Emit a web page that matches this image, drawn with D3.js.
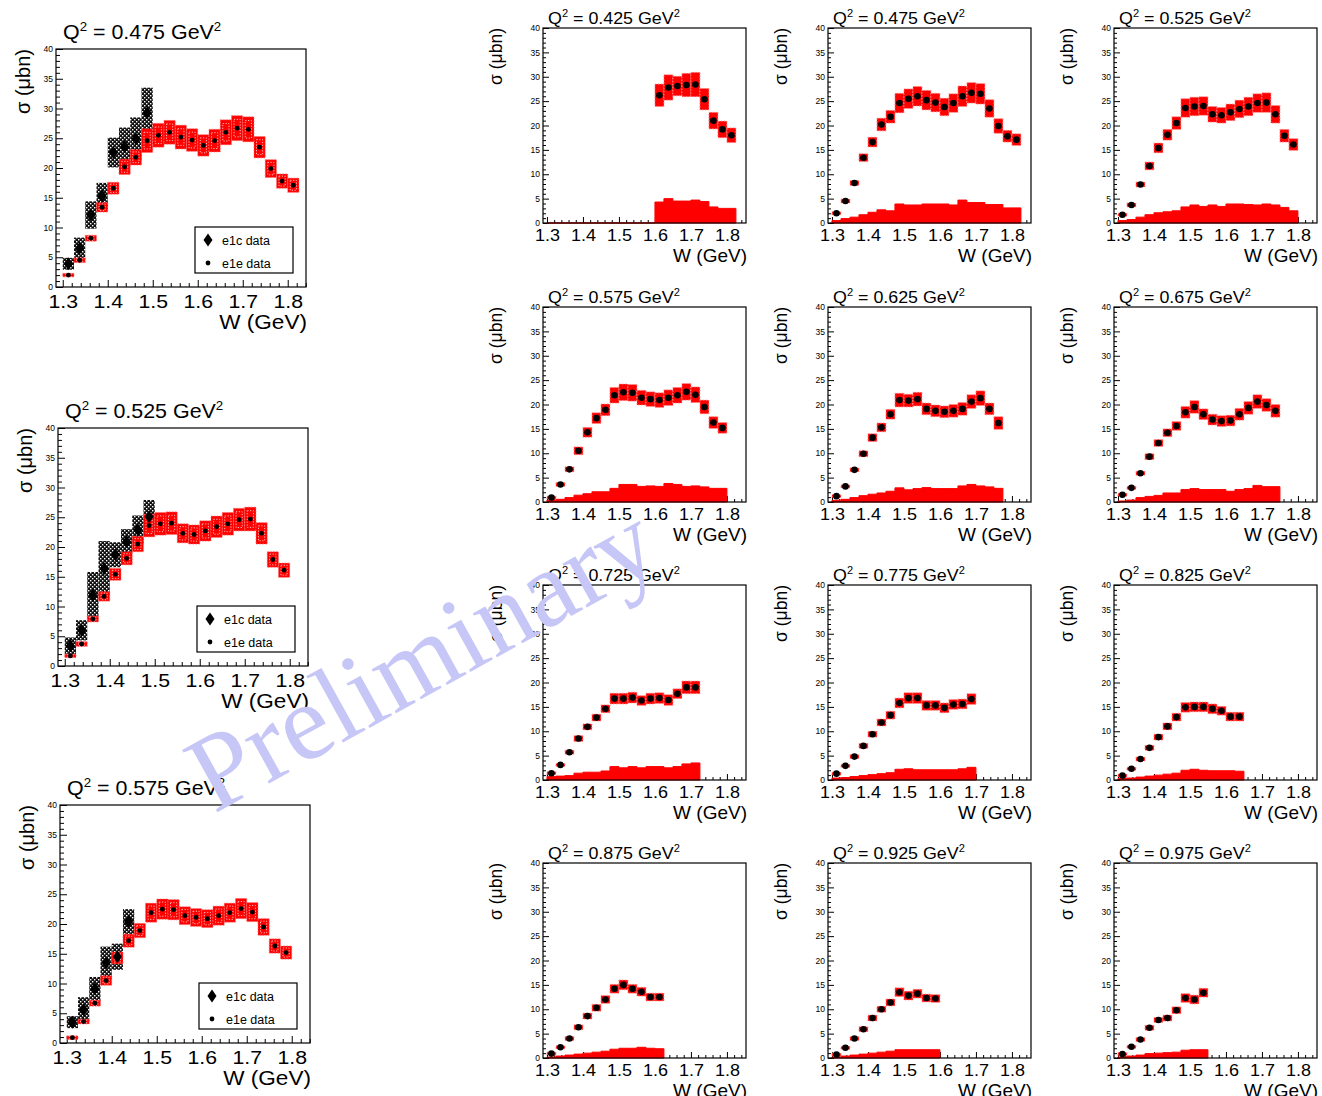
<!DOCTYPE html>
<html>
<head>
<meta charset="utf-8">
<script src="https://cdn.jsdelivr.net/npm/d3@7"></script>
<style>
  html, body { margin: 0; padding: 0; background: #fff; }
  svg { display: block; font-family: "Liberation Sans", Arial, Helvetica, sans-serif; }
</style>
</head>
<body>
<svg id="chart" width="1322" height="1096"></svg>
<script>
// ---------------------------------------------------------------
// W bin centres (GeV), 25 MeV wide bins
const wCenters = [1.3125, 1.3375, 1.3625, 1.3875, 1.4125, 1.4375, 1.4625, 1.4875,
                  1.5125, 1.5375, 1.5625, 1.5875, 1.6125, 1.6375, 1.6625, 1.6875,
                  1.7125, 1.7375, 1.7625, 1.7875, 1.8125];
const binWidth = 0.025;

// Q^2 bins of the e1e measurement (GeV^2)
const q2Bins = ["0.425", "0.475", "0.525", "0.575", "0.625", "0.675",
                "0.725", "0.775", "0.825", "0.875", "0.925", "0.975"];

// e1e total cross sections (µb), point errors and systematic band, per Q^2
const sigma0425 = [null, null, null, null, null, null, null, null, null, null, null, null,
                   26.2, 27.8, 28.1, 28.3, 28.4, 25.4, 21.0, 19.2, 18.0];
const err0425   = [null, null, null, null, null, null, null, null, null, null, null, null,
                   2.3, 2.6, 2.0, 2.4, 2.5, 2.2, 1.7, 1.7, 1.5];
const sys0425   = [0, 0, 0, 0, 0, 0, 0, 0, 0, 0, 0, 0,
                   4.3, 5.0, 4.5, 4.5, 4.7, 4.4, 3.3, 3.0, 3.0];

const sigma0475 = [2.0, 4.5, 8.2, 13.4, 16.6, 20.2, 21.8, 24.6, 25.5, 26.0, 25.2, 24.7, 23.8, 24.6, 26.0, 26.7, 26.5, 23.5, 19.9, 17.8, 17.1];
const err0475   = [0.3, 0.4, 0.5, 0.8, 1.0, 1.3, 1.3, 2.0, 2.0, 2.0, 2.0, 1.9, 1.8, 1.9, 2.1, 2.1, 2.1, 1.8, 1.5, 1.2, 1.2];
const sys0475   = [0.5, 0.9, 1.2, 1.7, 2.2, 2.7, 2.5, 3.9, 3.7, 3.7, 3.9, 3.9, 3.9, 3.7, 4.7, 4.2, 4.2, 3.8, 3.8, 3.1, 3.1];

const sigma0525 = [1.7, 3.7, 7.9, 11.7, 15.4, 18.1, 20.5, 23.6, 23.9, 24.0, 22.3, 22.1, 22.7, 23.4, 23.9, 24.6, 24.7, 22.3, 17.9, 16.1];
const err0525   = [0.3, 0.4, 0.5, 0.8, 1.0, 1.1, 1.3, 1.9, 1.9, 1.9, 1.6, 1.6, 1.7, 1.8, 1.9, 1.9, 2.0, 1.8, 1.3, 1.2];
const sys0525   = [0.5, 0.7, 1.2, 1.7, 2.1, 2.3, 2.5, 3.3, 3.7, 3.4, 3.7, 3.4, 3.9, 3.9, 3.8, 3.7, 3.9, 3.7, 3.2, 2.5];

const sigma0575 = [0.9, 3.6, 6.7, 10.5, 14.3, 17.2, 18.9, 21.9, 22.5, 22.4, 21.4, 21.1, 20.9, 21.4, 21.9, 22.6, 22.0, 19.5, 16.3, 15.2];
const err0575   = [0.3, 0.4, 0.5, 0.8, 1.0, 1.1, 1.2, 1.6, 1.7, 1.7, 1.5, 1.5, 1.5, 1.6, 1.6, 1.7, 1.6, 1.4, 1.2, 1.1];
const sys0575   = [0.4, 0.55, 0.9, 1.4, 1.7, 2.1, 2.1, 2.8, 3.6, 3.6, 3.2, 3.3, 3.2, 3.8, 3.6, 3.2, 3.3, 3.1, 2.8, 2.8];

const sigma0625 = [1.2, 3.2, 6.6, 9.9, 13.2, 15.3, 18.0, 20.9, 20.8, 21.1, 19.1, 18.7, 18.5, 18.7, 19.1, 20.6, 21.3, 19.1, 16.2];
const err0625   = [0.3, 0.3, 0.4, 0.6, 0.8, 0.9, 1.0, 1.4, 1.3, 1.4, 1.2, 1.2, 1.2, 1.3, 1.3, 1.4, 1.5, 1.2, 1.3];
const sys0625   = [0.35, 0.55, 0.9, 1.3, 1.6, 1.85, 2.2, 2.9, 2.5, 2.75, 2.95, 2.75, 2.75, 2.75, 3.3, 3.6, 3.3, 3.1, 2.8];

const sigma0675 = [1.5, 2.9, 5.9, 9.3, 12.1, 14.2, 15.6, 18.4, 19.5, 18.0, 16.9, 16.6, 16.7, 18.0, 19.3, 20.6, 19.9, 18.7];
const err0675   = [0.3, 0.3, 0.4, 0.6, 0.7, 0.8, 0.9, 1.2, 1.3, 1.1, 1.1, 1.1, 1.1, 1.2, 1.3, 1.4, 1.3, 1.3];
const sys0675   = [0.2, 0.4, 0.9, 1.15, 1.35, 1.85, 1.85, 2.55, 2.75, 2.55, 2.55, 2.55, 2.2, 2.55, 2.75, 3.4, 3.15, 3.15];

const sigma0725 = [1.4, 3.1, 5.7, 8.5, 10.9, 12.8, 14.6, 16.7, 16.7, 16.9, 16.3, 16.7, 16.8, 16.4, 17.7, 19.0, 19.0];
const err0725   = [0.3, 0.3, 0.4, 0.6, 0.6, 0.7, 0.8, 1.1, 1.1, 1.1, 1.0, 1.1, 1.1, 1.1, 1.0, 1.3, 1.3];
const sys0725   = [0.7, 0.8, 0.9, 1.4, 1.6, 1.6, 1.85, 2.75, 2.5, 2.75, 2.5, 2.75, 2.75, 2.5, 2.75, 3.3, 3.5];

const sigma0775 = [1.3, 2.9, 4.8, 7.0, 9.4, 11.8, 13.3, 15.8, 16.8, 16.8, 15.3, 15.3, 14.8, 15.5, 15.6, 16.6];
const err0775   = [0.3, 0.3, 0.4, 0.5, 0.6, 0.7, 0.8, 1.0, 1.1, 1.1, 1.0, 1.0, 1.0, 1.0, 1.0, 1.1];
const sys0775   = [0.4, 0.5, 0.7, 0.9, 1.1, 1.3, 1.5, 2.2, 2.3, 2.1, 2.1, 2.1, 2.1, 2.1, 2.3, 2.6];

const sigma0825 = [0.9, 2.3, 4.3, 6.6, 8.8, 11.0, 12.9, 14.9, 15.0, 15.0, 14.6, 14.2, 13.0, 13.0];
const err0825   = [0.3, 0.3, 0.4, 0.5, 0.6, 0.7, 0.8, 1.0, 1.0, 1.0, 1.0, 0.9, 0.9, 0.9];
const sys0825   = [0.3, 0.4, 0.6, 0.8, 1.0, 1.2, 1.4, 2.0, 2.2, 2.0, 1.9, 1.9, 1.9, 1.8];

const sigma0875 = [0.9, 2.2, 4.0, 6.3, 8.6, 10.3, 12.0, 14.2, 15.0, 14.2, 13.6, 12.5, 12.5];
const err0875   = [0.3, 0.3, 0.4, 0.5, 0.6, 0.7, 0.8, 0.9, 1.0, 0.9, 0.9, 0.8, 0.8];
const sys0875   = [0.2, 0.4, 0.6, 0.8, 1.0, 1.2, 1.4, 1.8, 2.0, 2.0, 2.2, 2.0, 1.9];

const sigma0925 = [0.7, 2.1, 4.0, 5.9, 8.2, 10.0, 11.4, 13.5, 12.8, 13.2, 12.3, 12.2];
const err0925   = [0.3, 0.3, 0.4, 0.5, 0.6, 0.6, 0.7, 0.9, 0.9, 0.9, 0.8, 0.8];
const sys0925   = [0.2, 0.4, 0.6, 0.8, 1.0, 1.2, 1.4, 1.7, 1.7, 1.7, 1.7, 1.7];

const sigma0975 = [0.8, 2.3, 3.8, 6.2, 7.8, 8.2, 9.8, 12.3, 12.0, 13.4];
const err0975   = [0.3, 0.3, 0.4, 0.5, 0.5, 0.6, 0.7, 0.9, 0.9, 0.9];
const sys0975   = [0.2, 0.4, 0.6, 0.9, 1.0, 1.1, 1.2, 1.6, 1.7, 1.7];

// e1c cross sections (µb) for the overlapping low-W region
const e1cQ2 = ["0.475", "0.525", "0.575"];
const e1cSigma0475 = [3.9, 6.5, 12.1, 15.3, 22.6, 23.6, 24.9, 29.3];
const e1cErr0475   = [1.0, 1.8, 2.3, 2.2, 2.5, 3.2, 3.6, 4.2];
const e1cSigma0525 = [3.4, 6.0, 11.9, 16.4, 18.7, 20.9, 22.9, 25.1];
const e1cErr0525   = [1.4, 1.7, 3.9, 4.6, 2.1, 2.1, 2.4, 2.8];
const e1cSigma0575 = [3.5, 5.6, 9.1, 13.5, 14.5, 20.4];
const e1cErr0575   = [1.0, 2.1, 2.0, 2.7, 2.2, 2.1];

// axis ticks
const wMajorTicks = [1.3, 1.4, 1.5, 1.6, 1.7, 1.8];
const wMinorTicks = [1.32, 1.34, 1.36, 1.38, 1.42, 1.44, 1.46, 1.48, 1.52, 1.54, 1.56, 1.58,
                     1.62, 1.64, 1.66, 1.68, 1.72, 1.74, 1.76, 1.78, 1.82, 1.84];
const sigmaMajorTicks = [0, 5, 10, 15, 20, 25, 30, 35, 40];
const sigmaMinorTicks = d3.range(0, 41).filter(v => v % 5 !== 0);

// ---------------------------------------------------------------
// assemble per-panel tables
const e1eSigma = [sigma0425, sigma0475, sigma0525, sigma0575, sigma0625, sigma0675,
                  sigma0725, sigma0775, sigma0825, sigma0875, sigma0925, sigma0975];
const e1eErr   = [err0425, err0475, err0525, err0575, err0625, err0675,
                  err0725, err0775, err0825, err0875, err0925, err0975];
const e1eSys   = [sys0425, sys0475, sys0525, sys0575, sys0625, sys0675,
                  sys0725, sys0775, sys0825, sys0875, sys0925, sys0975];
const e1cSigma = [e1cSigma0475, e1cSigma0525, e1cSigma0575];
const e1cErr   = [e1cErr0475, e1cErr0525, e1cErr0575];

function rowsFor(k) {
  return e1eSigma[k].map((s, i) => ({ w: wCenters[i], s, e: e1eErr[k][i], sys: e1eSys[k][i] }));
}

// ---------------------------------------------------------------
const svg = d3.select("#chart");
const defs = svg.append("defs");

// hatched fill for e1c error boxes
const hatch = defs.append("pattern").attr("id", "e1cHatch")
  .attr("patternUnits", "userSpaceOnUse").attr("width", 4).attr("height", 4);
hatch.append("rect").attr("width", 4).attr("height", 4).attr("fill", "#111");
hatch.append("rect").attr("x", 0).attr("y", 0).attr("width", 1.4).attr("height", 1.4).attr("fill", "#fff");
hatch.append("rect").attr("x", 2).attr("y", 2).attr("width", 1.4).attr("height", 1.4).attr("fill", "#fff");

const LEFT_STYLE = {
  w: 250, h: 238, xDomain: [1.285, 1.8406],
  titleSize: 21, titleSx: 1.02, titleDx: 7, titleDy: -10,
  xTickSize: 18.5, xTickSx: 1.15, xTickPad: 8,
  wTitleSize: 20, wTitleSx: 1.13, wTitleDy: 42,
  yTitleSize: 20, yTitleDx: -26,
  yTickSize: 8.5, major: 7, minor: 4
};
const RIGHT_STYLE = {
  w: 203, h: 195, xDomain: [1.289, 1.853],
  titleSize: 17, titleSx: 1.05, titleDx: 5, titleDy: -4,
  xTickSize: 17, xTickSx: 1.06, xTickPad: 6,
  wTitleSize: 19, wTitleSx: 1.0, wTitleDy: 39,
  yTitleSize: 17.5, yTitleDx: -41,
  yTickSize: 8.5, major: 6, minor: 3
};

function stretchedText(g, x, y, size, sx, anchor) {
  return g.append("text")
    .attr("transform", `translate(${x},${y}) scale(${sx},1)`)
    .attr("font-size", size)
    .attr("text-anchor", anchor)
    .attr("fill", "#000");
}

function q2Title(g, x, y, q2, size, sx) {
  const t = stretchedText(g, x, y, size, sx, "start");
  const sup = size * 0.62, up = size * 0.4;
  t.append("tspan").text("Q");
  t.append("tspan").attr("dy", -up).attr("font-size", sup).text("2");
  t.append("tspan").attr("dy", up).text(` = ${q2} GeV`);
  t.append("tspan").attr("dy", -up).attr("font-size", sup).text("2");
}

// frame, axes and titles; returns the plotting group and scales
function framePanel(x0, y0, st, q2) {
  const g = svg.append("g").attr("transform", `translate(${x0},${y0})`);
  const x = d3.scaleLinear().domain(st.xDomain).range([0, st.w]);
  const y = d3.scaleLinear().domain([0, 40]).range([st.h, 0]);

  // bottom axis: major ticks with labels, minor ticks, both pointing inward
  const xa = g.append("g").attr("transform", `translate(0,${st.h})`)
    .call(d3.axisBottom(x).tickValues(wMajorTicks).tickSize(-st.major)
      .tickPadding(st.xTickPad).tickFormat(d3.format(".1f")));
  xa.select(".domain").remove();
  xa.selectAll("line").attr("stroke", "#000").attr("stroke-width", 1);
  xa.selectAll("text").attr("font-size", st.xTickSize).attr("fill", "#000")
    .attr("font-family", null).attr("transform", `scale(${st.xTickSx},1)`);
  const xm = g.append("g").attr("transform", `translate(0,${st.h})`)
    .call(d3.axisBottom(x).tickValues(wMinorTicks).tickSize(-st.minor).tickFormat(""));
  xm.select(".domain").remove();
  xm.selectAll("line").attr("stroke", "#000");

  // left axis
  const ya = g.append("g")
    .call(d3.axisLeft(y).tickValues(sigmaMajorTicks).tickSize(-st.major).tickPadding(3));
  ya.select(".domain").remove();
  ya.selectAll("line").attr("stroke", "#000");
  ya.selectAll("text").attr("font-size", st.yTickSize).attr("fill", "#000").attr("font-family", null);
  const ym = g.append("g")
    .call(d3.axisLeft(y).tickValues(sigmaMinorTicks).tickSize(-st.minor).tickFormat(""));
  ym.select(".domain").remove();
  ym.selectAll("line").attr("stroke", "#000");

  // titles
  q2Title(g, st.titleDx, st.titleDy, q2, st.titleSize, st.titleSx);
  stretchedText(g, st.w + 1, st.h + st.wTitleDy, st.wTitleSize, st.wTitleSx, "end").text("W (GeV)");
  g.append("text")
    .attr("transform", `translate(${st.yTitleDx},0) rotate(-90)`)
    .attr("text-anchor", "end").attr("font-size", st.yTitleSize).attr("fill", "#000")
    .text("σ (μbn)");

  const plot = g.append("g");
  const frame = () => g.append("rect").attr("width", st.w).attr("height", st.h)
    .attr("fill", "none").attr("stroke", "#000").attr("stroke-width", 1.2);
  return { g, plot, x, y, frame };
}

// ---------------------------------------------------------------
// right-hand grid: 4 rows x 3 columns, one panel per Q^2 bin
const colX = [543, 828, 1114];
const rowY = [28, 307, 585, 863];

q2Bins.forEach((q2, k) => {
  const p = framePanel(colX[k % 3], rowY[Math.floor(k / 3)], RIGHT_STYLE, q2);
  const { plot, x, y } = p;
  const rows = rowsFor(k);
  const half = binWidth / 2;

  // systematic uncertainty band drawn as a step histogram from zero
  const edges = rows.map(r => ({ w: r.w - half, v: r.sys }));
  edges.push({ w: rows[rows.length - 1].w + half, v: rows[rows.length - 1].sys });
  plot.append("path").datum(edges)
    .attr("d", d3.area().curve(d3.curveStepAfter).x(d => x(d.w)).y0(y(0)).y1(d => y(d.v)))
    .attr("fill", "#ff0000").attr("stroke", "#ff0000").attr("stroke-width", 1);

  const pts = rows.filter(r => r.s !== null);
  // error boxes
  plot.selectAll("rect.box").data(pts).join("rect").attr("class", "box")
    .attr("x", d => x(d.w - half)).attr("width", d => x(d.w + half) - x(d.w - half))
    .attr("y", d => y(d.s + d.e)).attr("height", d => y(d.s - d.e) - y(d.s + d.e))
    .attr("fill", "#ff0000").attr("stroke", "#ff9090").attr("stroke-width", 0.9)
    .attr("stroke-dasharray", "1.5,1.5");
  // data points
  plot.selectAll("circle").data(pts).join("circle")
    .attr("cx", d => x(d.w)).attr("cy", d => y(d.s)).attr("r", 3.3).attr("fill", "#000");
  p.frame();
});

// ---------------------------------------------------------------
// left column: e1e compared with e1c at three Q^2 values
const leftPos = [[56, 49], [58, 428], [60, 805]];
const diamond = (cx, cy, hw, hh) => `M${cx},${cy - hh}L${cx + hw},${cy}L${cx},${cy + hh}L${cx - hw},${cy}Z`;

e1cQ2.forEach((q2, j) => {
  const [x0, y0] = leftPos[j];
  const p = framePanel(x0, y0, LEFT_STYLE, q2);
  const { plot, x, y } = p;
  const half = binWidth / 2;
  const k = q2Bins.indexOf(q2);
  const e1e = rowsFor(k).filter(r => r.s !== null);
  const e1c = e1cSigma[j].map((s, i) => ({ w: wCenters[i], s, e: e1cErr[j][i] }));

  // e1c error boxes (hatched)
  plot.selectAll("rect.cbox").data(e1c).join("rect").attr("class", "cbox")
    .attr("x", d => x(d.w - half)).attr("width", d => x(d.w + half) - x(d.w - half))
    .attr("y", d => y(d.s + d.e)).attr("height", d => y(d.s - d.e) - y(d.s + d.e))
    .attr("fill", "url(#e1cHatch)");

  // e1e error boxes: filled box with dotted inner outline
  plot.selectAll("rect.ebox").data(e1e).join("rect").attr("class", "ebox")
    .attr("x", d => x(d.w - half)).attr("width", d => x(d.w + half) - x(d.w - half))
    .attr("y", d => y(d.s + d.e)).attr("height", d => y(d.s - d.e) - y(d.s + d.e))
    .attr("fill", "#ff0000").attr("stroke", "#ff7070").attr("stroke-width", 0.8)
    .attr("stroke-dasharray", "1.5,1.5");
  plot.selectAll("rect.einner").data(e1e).join("rect").attr("class", "einner")
    .attr("x", d => x(d.w - half * 0.55)).attr("width", d => x(d.w + half * 0.55) - x(d.w - half * 0.55))
    .attr("y", d => y(d.s + d.e * 0.7)).attr("height", d => y(d.s - d.e * 0.7) - y(d.s + d.e * 0.7))
    .attr("fill", "none").attr("stroke", "#ffd0d0").attr("stroke-width", 0.9)
    .attr("stroke-dasharray", "1.2,1.6");

  // markers
  plot.selectAll("circle").data(e1e).join("circle")
    .attr("cx", d => x(d.w)).attr("cy", d => y(d.s)).attr("r", 2.4).attr("fill", "#000");
  plot.selectAll("path.dia").data(e1c).join("path").attr("class", "dia")
    .attr("d", d => diamond(x(d.w), y(d.s), 4.5, 6.5)).attr("fill", "#000");

  p.frame();

  // legend
  const lg = p.g.append("g").attr("transform", "translate(139,178)");
  lg.append("rect").attr("width", 98).attr("height", 46)
    .attr("fill", "#fff").attr("stroke", "#000").attr("stroke-width", 1.2);
  lg.append("path").attr("d", diamond(13, 13, 4.5, 6.5)).attr("fill", "#000");
  lg.append("circle").attr("cx", 13).attr("cy", 36).attr("r", 2.4).attr("fill", "#000");
  lg.append("text").attr("x", 27).attr("y", 17.5).attr("font-size", 12.5).text("e1c data");
  lg.append("text").attr("x", 27).attr("y", 40.5).attr("font-size", 12.5).text("e1e data");
});

// ---------------------------------------------------------------
// watermark across the page
svg.append("text")
  .attr("transform", "translate(214,814) rotate(-29)")
  .attr("font-family", "'Liberation Serif', 'Times New Roman', serif")
  .attr("font-size", 109)
  .attr("fill", "#c6c6f7")
  .text("Preliminary");
</script>
</body>
</html>
